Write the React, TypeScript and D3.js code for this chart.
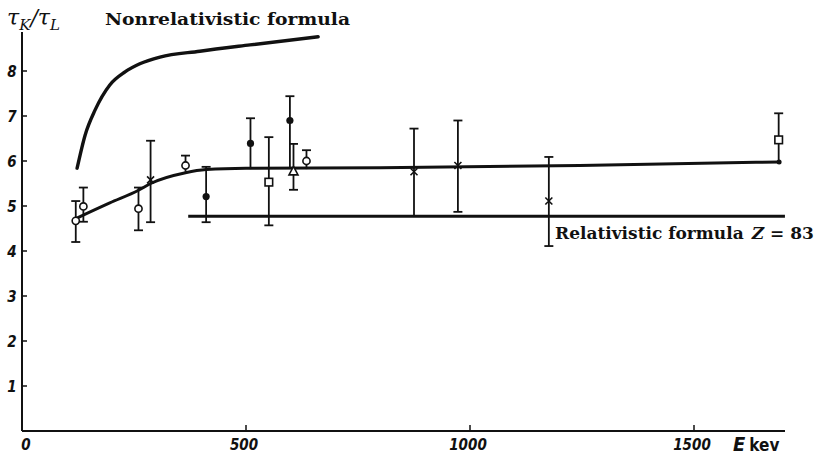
import React from "react";
import * as d3 from "d3";

// Data points: energy (keV), ratio, lower, upper, marker type
const energies = [120, 137, 260, 287, 365, 411, 510, 551, 598, 606, 635, 875, 973, 1176, 1689];
const ratios = [4.67, 4.99, 4.94, 5.58, 5.9, 5.21, 6.39, 5.53, 6.9, 5.77, 6.0, 5.76, 5.9, 5.11, 6.47];
const lowers = [4.2, 4.65, 4.46, 4.64, 5.76, 4.64, 5.82, 4.57, 5.82, 5.36, 5.82, 4.76, 4.87, 4.11, 5.98];
const uppers = [5.11, 5.41, 5.41, 6.45, 6.12, 5.87, 6.95, 6.53, 7.44, 6.38, 6.24, 6.72, 6.9, 6.09, 7.06];
const markers = ["open", "open", "open", "cross", "open", "filled", "filled", "square", "filled", "triangle", "open", "cross", "cross", "cross", "square"];
const lowerCaps = [true, true, true, true, false, true, false, true, false, true, false, false, true, true, false];

// Fitted experimental curve
const fitE = [122, 196, 260, 287, 365, 411, 500, 800, 1245, 1690];
const fitV = [4.73, 5.07, 5.35, 5.5, 5.74, 5.81, 5.84, 5.85, 5.9, 5.98];

// Nonrelativistic formula curve
const nonrelE = [123, 141, 163, 196, 230, 263, 308, 397, 509, 661];
const nonrelV = [5.84, 6.58, 7.13, 7.69, 7.98, 8.16, 8.31, 8.44, 8.58, 8.76];

// Relativistic formula line
const relE = [371, 1703];
const relV = [4.77, 4.77];

const xTicks = [0, 500, 1000, 1500];
const yTicks = [1, 2, 3, 4, 5, 6, 7, 8];

export default function App() {
  const x = d3.scaleLinear().domain([0, 1700]).range([22, 783.6]);
  const y = d3.scaleLinear().domain([0, 8]).range([431, 71]);

  const line = d3
    .line<[number, number]>()
    .x((d) => x(d[0]))
    .y((d) => y(d[1]))
    .curve(d3.curveMonotoneX);

  const fitPts = fitE.map((e, i) => [e, fitV[i]] as [number, number]);
  const nonrelPts = nonrelE.map((e, i) => [e, nonrelV[i]] as [number, number]);
  const relPts = relE.map((e, i) => [e, relV[i]] as [number, number]);

  const tickFont = "'DejaVu Sans Condensed', 'DejaVu Sans', sans-serif";
  const serif = "'DejaVu Serif', 'Liberation Serif', serif";

  return (
    <svg
      width={816}
      height={461}
      style={{ position: "absolute", left: 0, top: 0, background: "#fff" }}
    >
      {/* axes */}
      <line x1={x(0)} y1={y(0)} x2={785} y2={y(0)} stroke="#111" strokeWidth={2} />
      <line x1={x(0)} y1={y(0)} x2={x(0)} y2={32} stroke="#111" strokeWidth={2} />
      {yTicks.map((t) => (
        <g key={"yt" + t}>
          <line x1={x(0)} x2={x(0) + 5} y1={y(t)} y2={y(t)} stroke="#111" strokeWidth={1.5} />
          <text
            x={12}
            y={y(t) + 6}
            textAnchor="middle"
            fontFamily={tickFont}
            fontStyle="italic"
            fontWeight="bold"
            fontSize={15}
            fill="#111"
          >
            {t}
          </text>
        </g>
      ))}
      {xTicks.map((t) => (
        <g key={"xt" + t}>
          {t > 0 && (
            <line x1={x(t)} x2={x(t)} y1={y(0)} y2={y(0) - 6} stroke="#111" strokeWidth={1.5} />
          )}
          <text
            x={t === 0 ? x(t) + 4 : x(t) - 2}
            y={450}
            textAnchor="middle"
            fontFamily={tickFont}
            fontStyle="italic"
            fontWeight="bold"
            fontSize={15}
            fill="#111"
          >
            {t}
          </text>
        </g>
      ))}
      <text x={733} y={451} fontFamily={tickFont} fontSize={17} fill="#111">
        <tspan fontStyle="italic" fontWeight="bold" fontSize={20}>E</tspan>
        <tspan dx={4} fontWeight="bold">kev</tspan>
      </text>

      {/* y label */}
      <text x={7} y={25} fontFamily={serif} fontStyle="italic" fontSize={22} fill="#111">
        τ
        <tspan fontSize={15} dy={5}>K</tspan>
        <tspan fontSize={22} dy={-5}>/τ</tspan>
        <tspan fontSize={15} dy={5}>L</tspan>
      </text>

      {/* curves */}
      <path d={line(nonrelPts) || ""} fill="none" stroke="#111" strokeWidth={3.4} strokeLinecap="round" />
      <path d={line(fitPts) || ""} fill="none" stroke="#111" strokeWidth={3} strokeLinecap="round" />
      <path d={line(relPts) || ""} fill="none" stroke="#111" strokeWidth={3} />
      <circle cx={x(fitE[fitE.length - 1])} cy={y(fitV[fitV.length - 1])} r={2.5} fill="#111" />

      {/* error bars and markers */}
      {energies.map((e, i) => {
        const cx = x(e);
        const cy = y(ratios[i]);
        const top = y(uppers[i]);
        const bot = y(lowers[i]);
        const m = markers[i];
        return (
          <g key={"p" + i}>
            <line x1={cx} x2={cx} y1={top} y2={bot} stroke="#111" strokeWidth={1.8} />
            <line x1={cx - 4.5} x2={cx + 4.5} y1={top} y2={top} stroke="#111" strokeWidth={1.8} />
            {lowerCaps[i] && (
              <line x1={cx - 4.5} x2={cx + 4.5} y1={bot} y2={bot} stroke="#111" strokeWidth={1.8} />
            )}
            {m === "open" && <circle cx={cx} cy={cy} r={3.6} fill="#fff" stroke="#111" strokeWidth={1.6} />}
            {m === "filled" && <circle cx={cx} cy={cy} r={3.6} fill="#111" />}
            {m === "square" && (
              <rect x={cx - 3.8} y={cy - 3.8} width={7.6} height={7.6} fill="#fff" stroke="#111" strokeWidth={1.6} />
            )}
            {m === "triangle" && (
              <path
                d={`M${cx},${cy - 5} L${cx + 4.5},${cy + 3.5} L${cx - 4.5},${cy + 3.5} Z`}
                fill="#fff"
                stroke="#111"
                strokeWidth={1.6}
              />
            )}
            {m === "cross" && (
              <path
                d={`M${cx - 3.5},${cy - 3.5} L${cx + 3.5},${cy + 3.5} M${cx + 3.5},${cy - 3.5} L${cx - 3.5},${cy + 3.5}`}
                stroke="#111"
                strokeWidth={1.6}
              />
            )}
          </g>
        );
      })}

      {/* labels */}
      <text
        x={105}
        y={25}
        fontFamily={serif}
        fontWeight="bold"
        fontSize={16}
        fill="#111"
        textLength={245}
        lengthAdjust="spacingAndGlyphs"
      >
        Nonrelativistic formula
      </text>
      <text
        x={555}
        y={239}
        fontFamily={serif}
        fontWeight="bold"
        fontSize={17}
        fill="#111"
      >
        <tspan>Relativistic formula</tspan>
        <tspan dx={8} fontStyle="italic">Z</tspan>
        <tspan> = 83</tspan>
      </text>
    </svg>
  );
}
